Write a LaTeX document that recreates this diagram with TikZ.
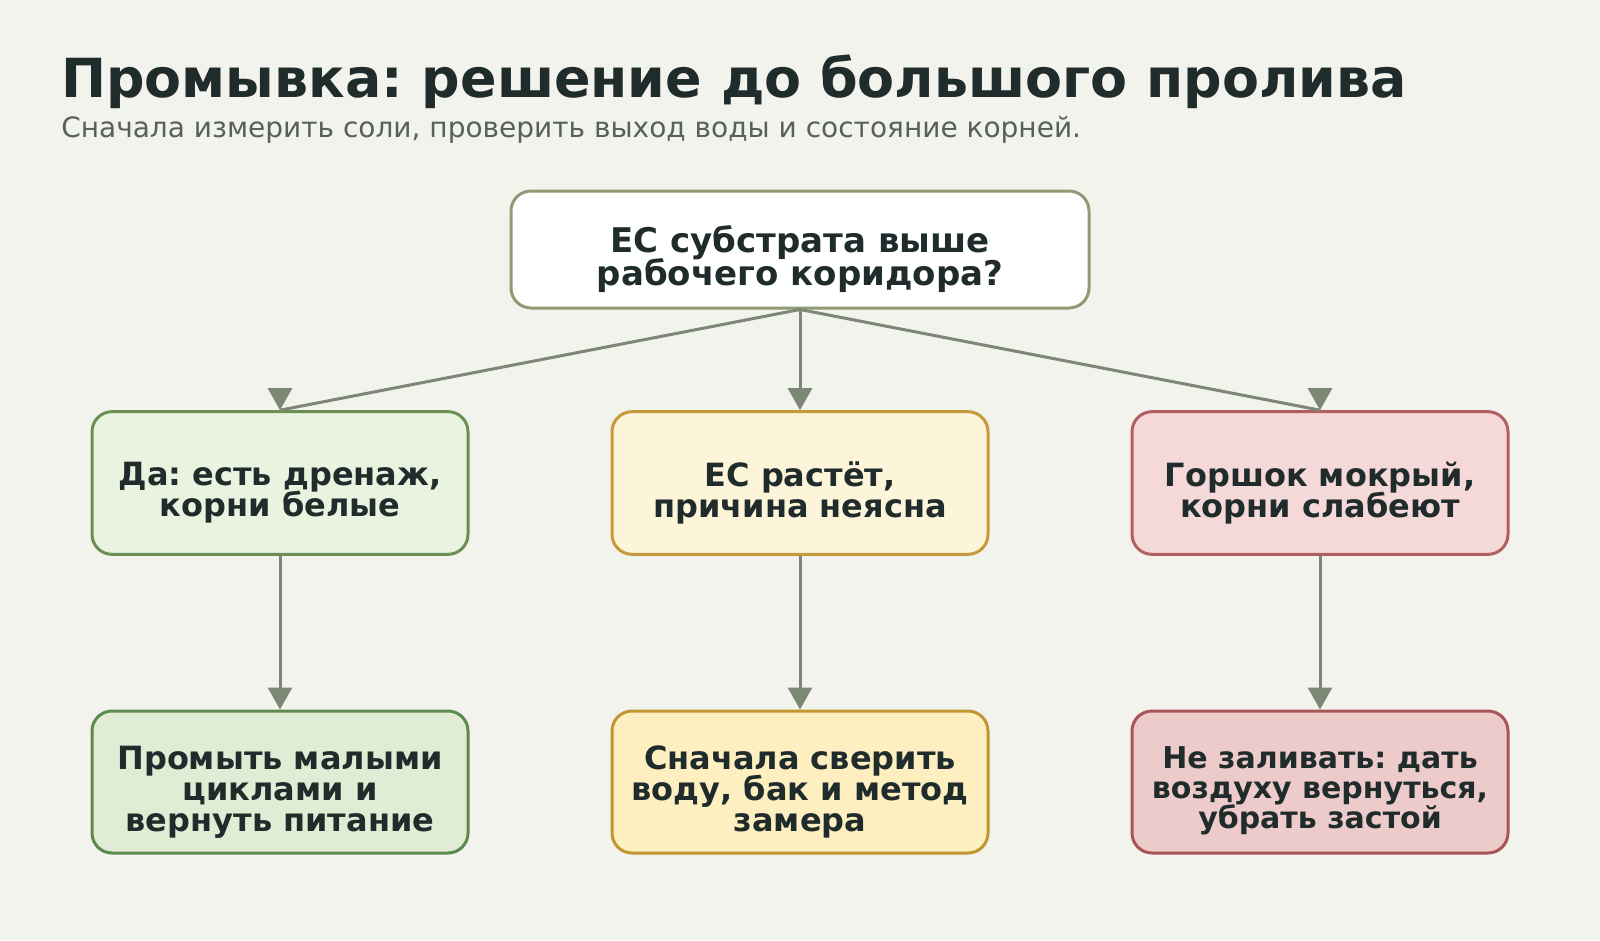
\documentclass[tikz,border=0pt]{standalone}
\usepackage{fontspec}
\setmainfont{DejaVu Sans}
\usetikzlibrary{arrows.meta}
\lineskiplimit=-30pt

\definecolor{paper}{HTML}{F3F3EE}
\definecolor{inkdark}{HTML}{202B2C}
\definecolor{inkgray}{HTML}{56605D}
\definecolor{wire}{HTML}{7D8776}
\definecolor{qline}{HTML}{8F9B74}
\definecolor{yesfill}{HTML}{EAF2E0}
\definecolor{yesline}{HTML}{6A8F55}
\definecolor{yesfillb}{HTML}{E0EDD4}
\definecolor{yeslineb}{HTML}{5F8A4D}
\definecolor{midfill}{HTML}{FDF5D9}
\definecolor{midline}{HTML}{C49A3A}
\definecolor{midfillb}{HTML}{FDEFBF}
\definecolor{midlineb}{HTML}{C0962F}
\definecolor{wetfill}{HTML}{F5D9D9}
\definecolor{wetline}{HTML}{B06060}
\definecolor{wetfillb}{HTML}{EDCBCB}
\definecolor{wetlineb}{HTML}{A85555}

\tikzset{
  card/.style={draw, rounded corners=15pt, line width=2.25pt,
    minimum width=282pt, minimum height=107pt, inner sep=0pt},
  cardtext/.style={text=inkdark, align=center, inner sep=0pt,
    font=\bfseries\fontsize{24pt}{23.25pt}\selectfont},
  wireline/.style={draw=wire, line width=2.25pt},
  flow/.style={wireline, -{Triangle[width=18pt,length=16.5pt]}},
}

\begin{document}
\frenchspacing
\begin{tikzpicture}[x=0.75pt,y=-0.75pt]
\fill[paper] (0,0) rectangle (1600,940);
\useasboundingbox (0,0) rectangle (1600,940);

\node[anchor=base west, text=inkdark, font=\bfseries\fontsize{40.4pt}{48pt}\selectfont, inner sep=0pt] (title) at (61,97) {Промывка: решение до большого пролива};
\node[anchor=base west, text=inkgray, font=\fontsize{21pt}{24pt}\selectfont, inner sep=0pt] (subtitle) at (61,137) {Сначала измерить соли, проверить выход воды и состояние корней.};

% question
\node[card, draw=qline, fill=white, minimum width=433.5pt, minimum height=87.75pt] (ask) at (800,249.5) {};
\node[cardtext, font=\bfseries\fontsize{25.5pt}{24.75pt}\selectfont] (ask-text) at ([yshift=-7.5pt]ask.center) {EC субстрата выше\\рабочего коридора?};

% first answers
\node[card, draw=yesline, fill=yesfill] (yes) at (280,483) {};
\node[cardtext] (yes-text) at ([yshift=-7.5pt]yes.center) {Да: есть дренаж,\\корни белые};
\node[card, draw=midline, fill=midfill] (grow) at (800,483) {};
\node[cardtext] (grow-text) at ([yshift=-7.5pt]grow.center) {EC растёт,\\причина неясна};
\node[card, draw=wetline, fill=wetfill] (wet) at (1320,483) {};
\node[cardtext] (wet-text) at ([yshift=-7.5pt]wet.center) {Горшок мокрый,\\корни слабеют};

% actions
\node[card, draw=yeslineb, fill=yesfillb, minimum height=106.5pt] (flush) at (280,782) {};
\node[cardtext] (flush-text) at ([yshift=-7.5pt]flush.center) {Промыть малыми\\циклами и\\вернуть питание};
\node[card, draw=midlineb, fill=midfillb, minimum height=106.5pt] (check) at (800,782) {};
\node[cardtext] (check-text) at ([yshift=-7.5pt]check.center) {Сначала сверить\\воду, бак и метод\\замера};
\node[card, draw=wetlineb, fill=wetfillb, minimum height=106.5pt] (dry) at (1320,782) {};
\node[cardtext, font=\bfseries\fontsize{22.5pt}{22.5pt}\selectfont] (dry-text) at ([yshift=-6.5pt]dry.center) {Не заливать: дать\\воздуху вернуться,\\убрать застой};

% connectors
\draw[wireline] (ask.south) -- (yes.north);
\draw[flow] ([yshift=16.5pt]yes.north) -- (yes.north);
\draw[flow] (ask.south) -- (grow.north);
\draw[wireline] (ask.south) -- (wet.north);
\draw[flow] ([yshift=16.5pt]wet.north) -- (wet.north);
\draw[flow] (yes.south) -- (flush.north);
\draw[flow] (grow.south) -- (check.north);
\draw[flow] (wet.south) -- (dry.north);
\end{tikzpicture}
\end{document}
